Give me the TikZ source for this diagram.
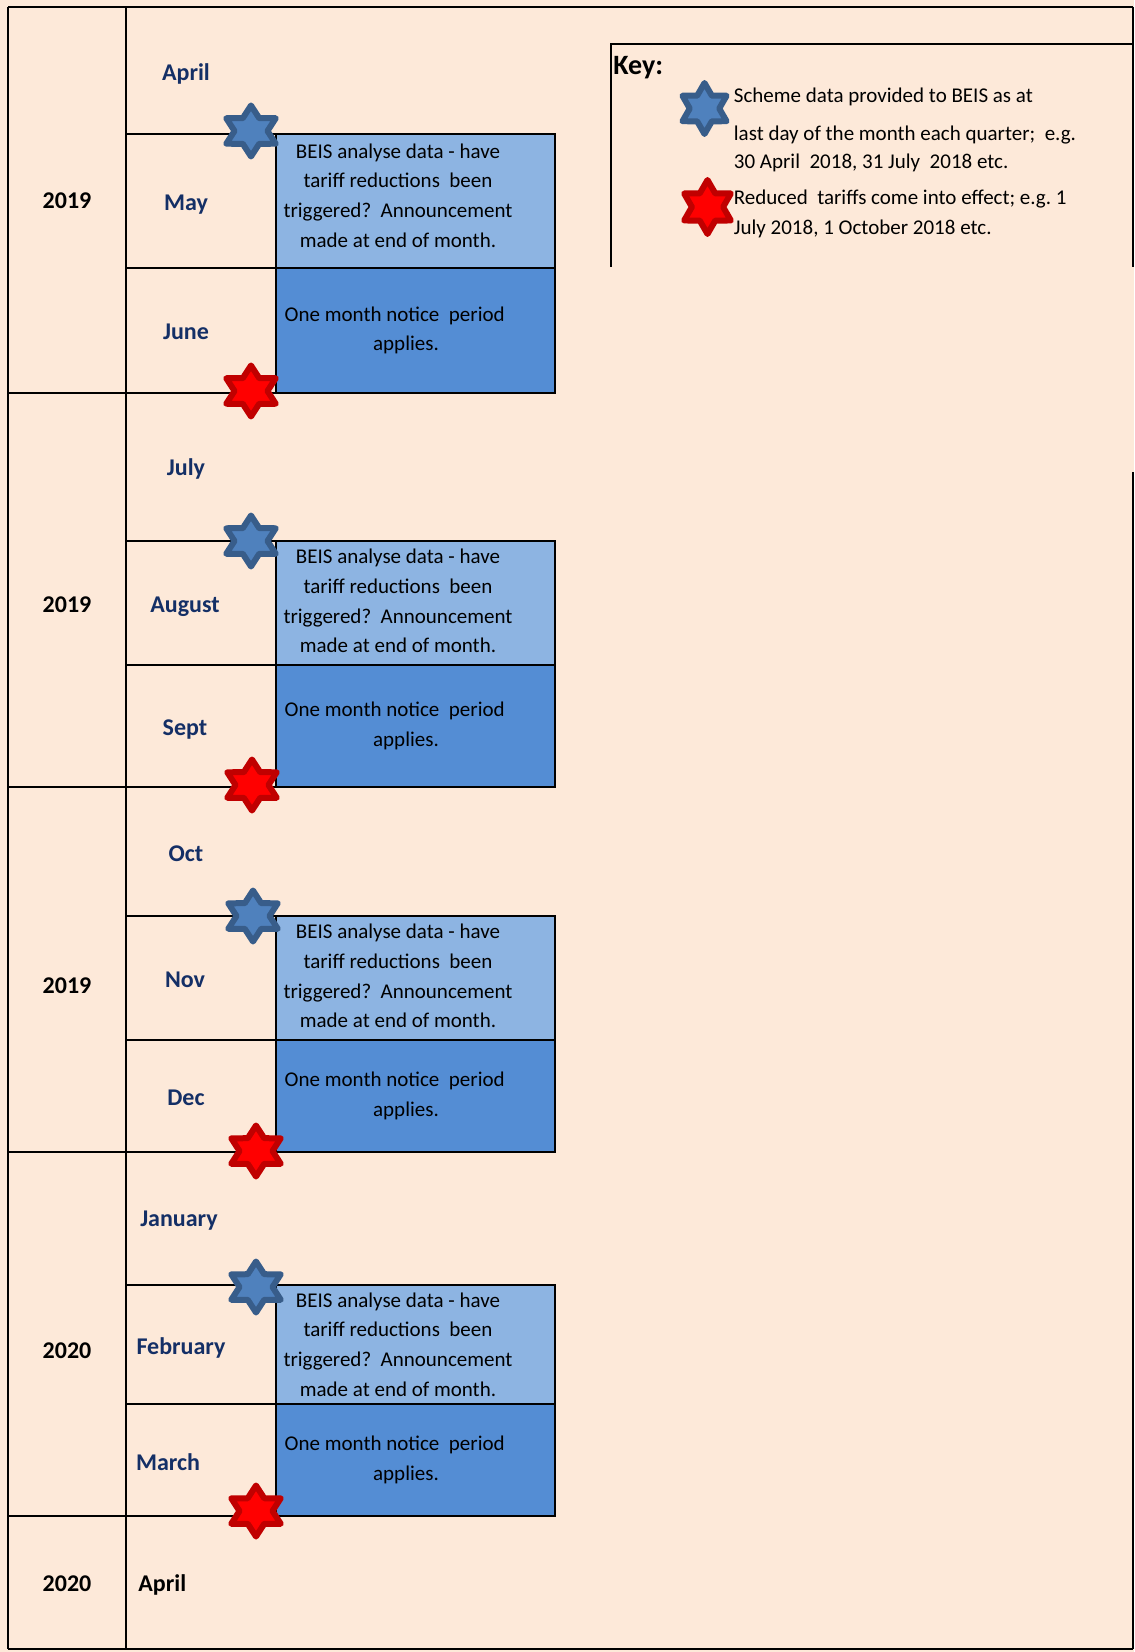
\documentclass[tikz,border=0pt]{standalone}
\usepackage{fontspec}
\setmainfont{Carlito}
\usetikzlibrary{shapes.geometric}
\frenchspacing
\definecolor{peach}{HTML}{FDE9D9}
\definecolor{boxlight}{HTML}{8DB4E2}
\definecolor{boxdark}{HTML}{548DD4}
\definecolor{monthblue}{HTML}{142F66}
\definecolor{starblue}{HTML}{4F81BD}
\definecolor{starblueedge}{HTML}{385D8A}
\definecolor{starred}{HTML}{FF0000}
\definecolor{starrededge}{HTML}{C00000}

\begin{document}
\begin{tikzpicture}[x=0.5pt,y=-0.5pt,
  grid/.style={line width=1.2pt},
  lightbox/.style={draw, line width=1.4pt, fill=boxlight},
  darkbox/.style={draw, line width=1.4pt, fill=boxdark},
  month/.style={font=\fontsize{12}{14}\selectfont\bfseries, text=monthblue, text height=9pt, text depth=1.5pt, inner sep=0pt},
  year/.style={font=\fontsize{12}{14}\selectfont\bfseries, text height=9pt, text depth=1.5pt, inner sep=0pt},
  boxtext/.style={font=\fontsize{10.5}{14.9}\selectfont, align=center, inner sep=0pt},
  keytext/.style={font=\fontsize{10.5}{13}\selectfont, anchor=west, text height=7.5pt, text depth=2pt, inner sep=0pt},
  hexstar/.style={star, star points=6, star point ratio=1.73, minimum size=25.5pt, inner sep=0pt, line width=3pt, line join=round},
  bluestar/.style={hexstar, fill=starblue, draw=starblueedge},
  redstar/.style={hexstar, fill=starred, draw=starrededge}]
\fill[peach] (0,0) rectangle (1134,1652);
\useasboundingbox (0,0) rectangle (1134,1652);

\draw[grid] (8,7) -- (1133,7) (8,1649) -- (1133,1649);
\draw[grid] (8,7) -- (8,1649) (126,7) -- (126,1649);
\draw[grid] (1133,7) -- (1133,267) (1133,472) -- (1133,1649);
\draw[grid] (611,267) -- (611,44) -- (1133,44);

\foreach \q/\ya/\yb/\yc/\dy in {1/134/268/393/-5.5, 2/541/665/787/-2, 3/916/1040/1152/-2, 4/1285/1404/1516/0}{
  \draw[grid] (126,\ya) -- (276,\ya) (126,\yb) -- (276,\yb) (8,\yc) -- (276,\yc);
  \draw[lightbox] (276,\ya) rectangle (555,\yb);
  \draw[darkbox] (276,\yb) rectangle (555,\yc);
  \node[boxtext] (analyse\q) at (398,{(\ya+\yb)/2+\dy}) {BEIS analyse data - have\\tariff reductions~ been\\triggered?~ Announcement\\made at end of month.};
  \node[boxtext] (notice\q) at (406,{(\yb+\yc)/2}) {One month notice~ period\hspace*{11.3pt}\\applies.};
}

\foreach \name/\txt/\x/\y in {apr/April/186/73, may/May/186/203, jun/June/186/332,
  jul/July/186/468, aug/August/185/605, sep/Sept/185/728,
  oct/Oct/186/854, nov/Nov/185/980, dec/Dec/186/1098,
  jan/January/179/1219, feb/February/181/1347, mar/March/168/1463}
  \node[month] (\name) at (\x,\y) {\txt};
\node[year, anchor=west] (aprnext) at (138,1584) {April};

\foreach \name/\txt/\y in {yra/2019/201, yrb/2019/605, yrc/2019/986, yrd/2020/1351, yre/2020/1584}
  \node[year] (\name) at (67,\y) {\txt};

\foreach \name/\x/\y in {sa/251/131, sb/251/541, sc/253/916, sd/256/1287}
  \node[bluestar, xscale=1.12] (\name) at (\x,\y) {};
\foreach \name/\x/\y in {ra/251/391, rb/252/785, rc/256/1151, rd/256/1511}
  \node[redstar, xscale=1.12] (\name) at (\x,\y) {};

\node[year, anchor=west, font=\fontsize{14}{16}\selectfont\bfseries] (key) at (613,67) {Key:};
\node[bluestar] (keyblue) at (704.5,108.5) {};
\node[redstar, minimum size=27pt] (keyred) at (707.5,207) {};
\node[keytext] (keya) at (733.5,97) {Scheme data provided to BEIS as at};
\node[keytext] (keyb) at (733.5,135) {last day of the month each quarter;~ e.g.};
\node[keytext] (keyc) at (733.5,163) {30 April~ 2018, 31 July~ 2018 etc.};
\node[keytext] (keyd) at (733.5,199) {Reduced~ tariffs come into effect; e.g. 1};
\node[keytext] (keye) at (733.5,229) {July 2018, 1 October 2018 etc.};
\end{tikzpicture}
\end{document}
